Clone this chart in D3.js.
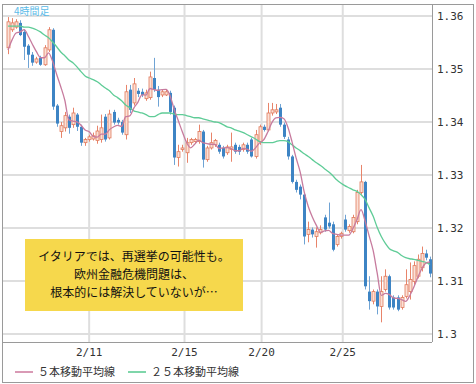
<!DOCTYPE html>
<html>
<head>
<meta charset="utf-8">
<script src="https://cdn.jsdelivr.net/npm/d3@7"></script>
<style>
body { margin: 0; background: #fff; }
.mono { font-family: "DejaVu Sans Mono", monospace; }
.jp { font-family: "Noto Sans CJK JP", sans-serif; }
</style>
</head>
<body>
<svg id="chart" width="476" height="384"></svg>
<script>
// 4h candles
const opens = [1.3540,1.3574,1.3579,1.3587,1.3570,1.3544,1.3527,1.3513,1.3521,1.3508,
  1.3536,1.3574,1.3431,1.3382,1.3389,1.3410,1.3395,1.3414,1.3391,1.3361,
  1.3367,1.3368,1.3365,1.3367,1.3410,1.3370,1.3419,1.3404,1.3400,1.3376,
  1.3461,1.3436,1.3459,1.3457,1.3444,1.3446,1.3483,1.3461,1.3451,1.3451,
  1.3455,1.3427,1.3333,1.3348,1.3342,1.3361,1.3363,1.3363,1.3382,1.3329,
  1.3351,1.3357,1.3357,1.3351,1.3342,1.3348,1.3357,1.3353,1.3348,1.3357,
  1.3367,1.3335,1.3363,1.3391,1.3385,1.3417,1.3419,1.3427,1.3395,1.3367,
  1.3335,1.3287,1.3278,1.3263,1.3188,1.3197,1.3184,1.3191,1.3220,1.3210,
  1.3207,1.3169,1.3184,1.3216,1.3195,1.3193,1.3212,1.3267,1.3287,1.3080,
  1.3062,1.3080,1.3052,1.3084,1.3109,1.3069,1.3069,1.3050,1.3071,1.3080,
  1.3099,1.3109,1.3125,1.3152,1.3141];
const closes = [1.3589,1.3587,1.3589,1.3564,1.3542,1.3527,1.3512,1.3519,1.3508,1.3540,
  1.3574,1.3429,1.3397,1.3393,1.3412,1.3389,1.3417,1.3391,1.3361,1.3367,
  1.3372,1.3374,1.3383,1.3389,1.3367,1.3415,1.3399,1.3399,1.3380,1.3457,
  1.3423,1.3472,1.3453,1.3451,1.3455,1.3485,1.3461,1.3447,1.3457,1.3457,
  1.3419,1.3333,1.3344,1.3351,1.3361,1.3367,1.3367,1.3382,1.3329,1.3351,
  1.3361,1.3365,1.3344,1.3335,1.3353,1.3353,1.3344,1.3344,1.3357,1.3344,
  1.3335,1.3376,1.3391,1.3385,1.3417,1.3423,1.3423,1.3395,1.3372,1.3335,
  1.3287,1.3272,1.3263,1.3184,1.3197,1.3188,1.3193,1.3197,1.3197,1.3203,
  1.3159,1.3184,1.3190,1.3197,1.3203,1.3220,1.3267,1.3287,1.3090,1.3062,
  1.3080,1.3052,1.3080,1.3109,1.3050,1.3050,1.3046,1.3069,1.3093,1.3103,
  1.3129,1.3141,1.3152,1.3144,1.3114];
const highs = [1.3598,1.3596,1.3594,1.3592,1.3574,1.3547,1.3532,1.3523,1.3525,1.3545,
  1.3579,1.3577,1.3434,1.3400,1.3419,1.3414,1.3427,1.3417,1.3395,1.3370,
  1.3376,1.3380,1.3393,1.3414,1.3415,1.3423,1.3423,1.3408,1.3404,1.3470,
  1.3470,1.3483,1.3464,1.3463,1.3461,1.3495,1.3521,1.3468,1.3461,1.3461,
  1.3459,1.3431,1.3357,1.3357,1.3370,1.3370,1.3370,1.3395,1.3385,1.3355,
  1.3380,1.3368,1.3361,1.3355,1.3357,1.3380,1.3361,1.3357,1.3361,1.3361,
  1.3370,1.3385,1.3395,1.3395,1.3436,1.3436,1.3434,1.3434,1.3399,1.3372,
  1.3338,1.3291,1.3282,1.3267,1.3212,1.3201,1.3201,1.3205,1.3225,1.3248,
  1.3212,1.3188,1.3193,1.3225,1.3207,1.3225,1.3272,1.3319,1.3289,1.3109,
  1.3084,1.3084,1.3109,1.3122,1.3112,1.3073,1.3073,1.3073,1.3122,1.3135,
  1.3137,1.3150,1.3165,1.3159,1.3146];
const lows = [1.3528,1.3570,1.3576,1.3562,1.3517,1.3502,1.3506,1.3510,1.3506,1.3506,
  1.3532,1.3423,1.3391,1.3370,1.3382,1.3378,1.3389,1.3383,1.3355,1.3355,
  1.3363,1.3365,1.3359,1.3361,1.3363,1.3367,1.3395,1.3395,1.3376,1.3367,
  1.3417,1.3431,1.3447,1.3447,1.3440,1.3442,1.3457,1.3429,1.3447,1.3449,
  1.3414,1.3319,1.3316,1.3344,1.3323,1.3357,1.3359,1.3359,1.3314,1.3325,
  1.3348,1.3353,1.3340,1.3331,1.3338,1.3325,1.3340,1.3338,1.3344,1.3340,
  1.3333,1.3331,1.3357,1.3382,1.3382,1.3412,1.3415,1.3391,1.3368,1.3329,
  1.3284,1.3267,1.3254,1.3169,1.3173,1.3182,1.3163,1.3188,1.3193,1.3199,
  1.3156,1.3165,1.3180,1.3193,1.3191,1.3190,1.3207,1.3263,1.3084,1.3046,
  1.3056,1.3037,1.3022,1.3080,1.3046,1.3046,1.3043,1.3046,1.3067,1.3065,
  1.3093,1.3105,1.3118,1.3139,1.3107];

// moving averages: 5-bar from closes (first four), 25-bar
const ma5Lead = [1.3536, 1.3555, 1.3568, 1.3570];
const ma25 = [1.3581,1.3581,1.3581,1.3581,1.3579,1.3579,1.3577,1.3574,1.3570,1.3564,
  1.3559,1.3551,1.3542,1.3532,1.3525,1.3517,1.3512,1.3504,1.3495,1.3487,
  1.3483,1.3480,1.3476,1.3470,1.3464,1.3459,1.3451,1.3446,1.3440,1.3432,
  1.3427,1.3421,1.3419,1.3417,1.3414,1.3410,1.3410,1.3414,1.3417,1.3417,
  1.3417,1.3415,1.3414,1.3414,1.3412,1.3410,1.3408,1.3408,1.3406,1.3404,
  1.3402,1.3400,1.3399,1.3395,1.3391,1.3389,1.3385,1.3383,1.3380,1.3376,
  1.3372,1.3368,1.3363,1.3361,1.3361,1.3361,1.3363,1.3365,1.3365,1.3363,
  1.3357,1.3351,1.3346,1.3340,1.3335,1.3329,1.3323,1.3318,1.3312,1.3306,
  1.3299,1.3291,1.3285,1.3280,1.3276,1.3272,1.3269,1.3263,1.3254,1.3238,
  1.3222,1.3201,1.3184,1.3171,1.3161,1.3157,1.3154,1.3148,1.3144,1.3142,
  1.3141,1.3139,1.3137,1.3135,1.3131];

const yTicks = [1.30, 1.31, 1.32, 1.33, 1.34, 1.35, 1.36];
const xTickIdx = [20, 43.5, 62.5, 82.5];
const xTickLabels = ["2/11", "2/15", "2/20", "2/25"];
const legendLabels = ["５本移動平均線", "２５本移動平均線"];
const noteLines = ["イタリアでは、再選挙の可能性も。", "欧州金融危機問題は、", "根本的には解決していないが…"];
const periodLabel = "4時間足";

const svg = d3.select("#chart");
const N = closes.length;
const plot = {left: 3, right: 432, top: 5, bottom: 342};

const x = d3.scaleLinear().domain([0, N - 1]).range([8, 430]);
const y = d3.scaleLinear().domain([1.30, 1.36]).range([334, 16]);

const ma5 = closes.map((c, i) => i < 4 ? ma5Lead[i] : d3.mean(closes.slice(i - 4, i + 1)));

svg.append("rect").attr("width", 476).attr("height", 384).attr("fill", "#fff");

// grid
svg.append("g").selectAll("line").data(yTicks).join("line")
  .attr("x1", plot.left).attr("x2", plot.right)
  .attr("y1", d => y(d)).attr("y2", d => y(d))
  .attr("stroke", "#dedede").attr("stroke-width", 2);
svg.append("g").selectAll("line").data(xTickIdx).join("line")
  .attr("x1", d => x(d)).attr("x2", d => x(d))
  .attr("y1", plot.top).attr("y2", plot.bottom)
  .attr("stroke", "#dedede").attr("stroke-width", 2);

svg.append("clipPath").attr("id", "clip").append("rect")
  .attr("x", plot.left).attr("y", plot.top)
  .attr("width", plot.right - plot.left).attr("height", plot.bottom - plot.top);

const g = svg.append("g").attr("clip-path", "url(#clip)");

// candles
const idx = d3.range(N);
const up = i => closes[i] >= opens[i];
g.append("g").selectAll("line").data(idx).join("line")
  .attr("x1", i => Math.round(x(i)) + 0.5).attr("x2", i => Math.round(x(i)) + 0.5)
  .attr("y1", i => y(highs[i])).attr("y2", i => y(lows[i]))
  .attr("stroke", i => up(i) ? "#e8846a" : "#6fa3d4").attr("stroke-width", 1);
g.append("g").selectAll("rect").data(idx).join("rect")
  .attr("x", i => Math.round(x(i)) - 1)
  .attr("width", 3)
  .attr("y", i => y(Math.max(opens[i], closes[i])))
  .attr("height", i => Math.max(1, Math.abs(y(opens[i]) - y(closes[i]))))
  .attr("fill", i => up(i) ? "#fbe0d6" : "#3d84c4")
  .attr("stroke", i => up(i) ? "#e07a5c" : "#3d84c4")
  .attr("stroke-width", i => up(i) ? 0.8 : 0);

// moving averages
const line = d3.line().x((d, i) => x(i)).y(d => y(d)).curve(d3.curveMonotoneX);
g.append("path").datum(ma25).attr("d", line)
  .attr("fill", "none").attr("stroke", "#5fcc97").attr("stroke-width", 1.3);
g.append("path").datum(ma5).attr("d", line)
  .attr("fill", "none").attr("stroke", "#c77b9e").attr("stroke-width", 1.3);

// frame
svg.append("rect").attr("x", 2.5).attr("y", 4.5).attr("width", 471).attr("height", 378)
  .attr("fill", "none").attr("stroke", "#9a9a9a");
svg.append("line").attr("x1", plot.left).attr("x2", plot.right)
  .attr("y1", plot.bottom + 0.5).attr("y2", plot.bottom + 0.5).attr("stroke", "#9a9a9a");
svg.append("line").attr("x1", plot.right + 0.5).attr("x2", plot.right + 0.5)
  .attr("y1", plot.top).attr("y2", plot.bottom).attr("stroke", "#9a9a9a");

// y labels
svg.append("g").selectAll("text").data(yTicks).join("text")
  .attr("class", "mono")
  .attr("x", 437).attr("y", d => y(d) + 4)
  .attr("font-size", 11).attr("fill", "#333")
  .text(d => String(+d.toFixed(2)));

// x labels
svg.append("g").selectAll("text").data(xTickIdx).join("text")
  .attr("class", "mono")
  .attr("x", d => x(d)).attr("y", 356)
  .attr("text-anchor", "middle")
  .attr("font-size", 11).attr("fill", "#333")
  .text((d, i) => xTickLabels[i]);

// period label
svg.append("text").attr("class", "jp")
  .attr("x", 14).attr("y", 15)
  .attr("font-size", 10).attr("fill", "#5bbbe8")
  .text(periodLabel);

// legend
const legendX = [15, 128];
const legendColors = ["#d99ab5", "#7fd6aa"];
const lg = svg.append("g").selectAll("g").data(legendLabels).join("g")
  .attr("transform", (d, i) => `translate(${legendX[i]},372)`);
lg.append("line").attr("x1", 0).attr("x2", 18)
  .attr("stroke", (d, i) => legendColors[i]).attr("stroke-width", 2);
lg.append("text").attr("class", "jp")
  .attr("x", 23).attr("y", 4)
  .attr("font-size", 11).attr("fill", "#333")
  .text(d => d);

// note box
svg.append("rect").attr("x", 25).attr("y", 239).attr("width", 218).attr("height", 72)
  .attr("fill", "#f6d84c");
svg.append("g").selectAll("text").data(noteLines).join("text")
  .attr("class", "jp")
  .attr("x", 134).attr("y", (d, i) => 261 + i * 18)
  .attr("text-anchor", "middle")
  .attr("font-size", 12).attr("fill", "#111")
  .text(d => d);
</script>
</body>
</html>
